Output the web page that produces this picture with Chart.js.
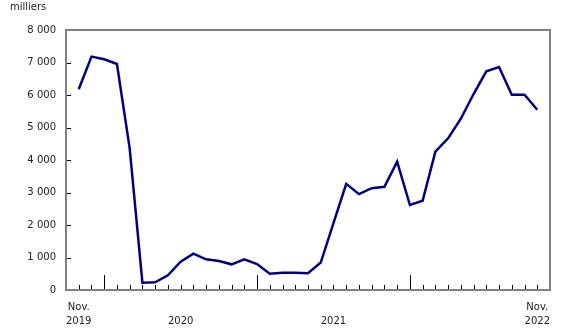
<!DOCTYPE html>
<html>
<head>
<meta charset="utf-8">
<script src="https://cdn.jsdelivr.net/npm/chart.js@4"></script>
<style>
  html, body { margin: 0; padding: 0; background: #fff; }
  #wrap { width: 580px; height: 335px; }
</style>
</head>
<body>
<div id="wrap"><canvas id="line-chart" width="580" height="335"></canvas></div>
<script>
// mois, nov. 2019 a nov. 2022
var months = ['2019-11','2019-12','2020-01','2020-02','2020-03','2020-04','2020-05','2020-06','2020-07','2020-08','2020-09','2020-10','2020-11','2020-12',
  '2021-01','2021-02','2021-03','2021-04','2021-05','2021-06','2021-07','2021-08','2021-09','2021-10','2021-11','2021-12',
  '2022-01','2022-02','2022-03','2022-04','2022-05','2022-06','2022-07','2022-08','2022-09','2022-10','2022-11'];
// milliers
var values = [6175, 7180, 7100, 6954, 4360, 225, 235, 450, 870, 1117, 944, 892, 790, 944,
  800, 502, 533, 530, 515, 845, 2055, 3265, 2950, 3133, 3175, 3949,
  2615, 2748, 4256, 4667, 5270, 6030, 6730, 6860, 6010, 6010, 5545];

var yTicks = [0, 1000, 2000, 3000, 4000, 5000, 6000, 7000, 8000];
var xLabelPos = [0, 8, 20, 36];
var xLabels = [['Nov.', '2019'], ['', '2020'], ['', '2021'], ['Nov.', '2022']];

var points = [];
for (var i = 0; i < months.length; i++) {
  points.push({x: i, y: values[i]});
}

function fmt(v) {
  return String(v).replace(/\B(?=(\d{3})+(?!\d))/g, ' ');
}

// cadre, petites marques et unite
var frame = {
  id: 'frame',
  afterDraw: function(chart) {
    var ctx = chart.ctx, a = chart.chartArea;
    var xs = chart.scales.x, ys = chart.scales.y;
    ctx.save();
    ctx.strokeStyle = '#000';
    ctx.lineWidth = 1;
    for (var i = 0; i < months.length; i++) {
      var px = Math.round(xs.getPixelForValue(i)) + 0.5;
      var len = months[i].slice(5) == '01' ? 15 : 5;
      ctx.beginPath();
      ctx.moveTo(px, a.bottom);
      ctx.lineTo(px, a.bottom - len);
      ctx.stroke();
    }
    for (var j = 0; j < yTicks.length; j++) {
      var py = Math.round(ys.getPixelForValue(yTicks[j])) + 0.5;
      ctx.beginPath();
      ctx.moveTo(a.left, py);
      ctx.lineTo(a.left + 5, py);
      ctx.stroke();
    }
    ctx.strokeStyle = '#808080';
    ctx.lineWidth = 2;
    ctx.strokeRect(a.left, a.top, a.right - a.left, a.bottom - a.top);
    ctx.fillStyle = '#222';
    ctx.font = '10px "DejaVu Sans"';
    ctx.textBaseline = 'alphabetic';
    ctx.fillText('milliers', 10, 10);
    ctx.restore();
  }
};

new Chart(document.getElementById('line-chart'), {
  type: 'line',
  data: {
    datasets: [{
      data: points,
      borderColor: '#000080',
      borderWidth: 2.5,
      pointRadius: 0,
      tension: 0,
      fill: false
    }]
  },
  options: {
    responsive: false,
    animation: false,
    layout: { padding: { left: 10, top: 30, right: 30, bottom: 0 } },
    plugins: { legend: { display: false }, tooltip: { enabled: false } },
    scales: {
      x: {
        type: 'linear',
        min: -1,
        max: 37,
        afterFit: function(s) { s.height = 45; },
        afterBuildTicks: function(s) {
          s.ticks = xLabelPos.map(function(v) { return {value: v}; });
        },
        ticks: {
          autoSkip: false,
          maxRotation: 0,
          padding: 10,
          color: '#222',
          font: { family: 'DejaVu Sans', size: 10, lineHeight: 1.4 },
          callback: function(v) { return xLabels[xLabelPos.indexOf(v)]; }
        },
        grid: { display: false, drawTicks: false },
        border: { display: false }
      },
      y: {
        min: 0,
        max: 8000,
        afterFit: function(s) { s.width = 56; },
        afterBuildTicks: function(s) {
          s.ticks = yTicks.map(function(v) { return {value: v}; });
        },
        ticks: {
          padding: 10,
          color: '#222',
          font: { family: 'DejaVu Sans', size: 10 },
          callback: function(v) { return fmt(v); }
        },
        grid: { display: false, drawTicks: false },
        border: { display: false }
      }
    }
  },
  plugins: [frame]
});
</script>
</body>
</html>
